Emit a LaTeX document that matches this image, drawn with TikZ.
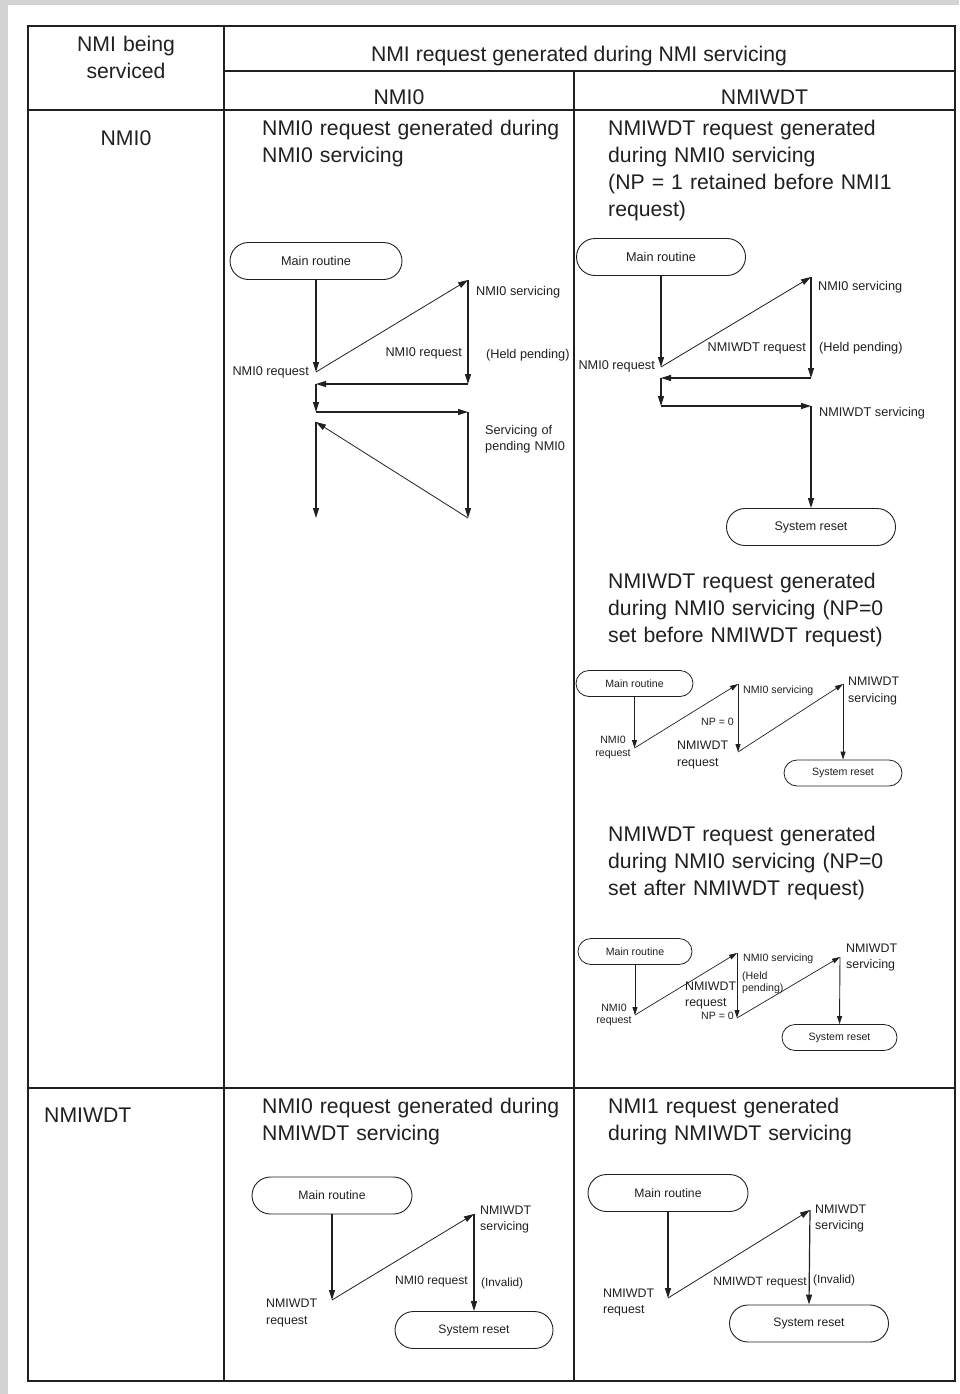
\documentclass[tikz,border=0pt]{standalone}
\usepackage{fontspec}
\setmainfont{Liberation Sans}
\usetikzlibrary{arrows.meta}
\definecolor{ink}{RGB}{35,31,32}
\definecolor{bggray}{RGB}{211,211,211}
\begin{document}
\begin{tikzpicture}[x=1pt,y=-1pt,
  big/.style={font=\fontsize{21.2}{27}\selectfont, inner sep=0pt, text=ink},
  capt/.style={big, text width=340pt, align=left, anchor=base west},
  lab/.style={font=\fontsize{12.7}{16}\selectfont, inner sep=0pt, text=ink},
  labm/.style={font=\fontsize{12.4}{16.5}\selectfont, inner sep=0pt, text=ink},
  labs/.style={font=\fontsize{10.6}{12.5}\selectfont, inner sep=0pt, text=ink},
  termL/.style={draw=ink, line width=0.9pt, rounded corners=18.5pt, minimum height=37pt, inner sep=0pt, font=\fontsize{12.5}{14}\selectfont, text=ink},
  termS/.style={draw=ink, line width=0.8pt, rounded corners=13pt, minimum height=26pt, inner sep=0pt, font=\fontsize{10.6}{12}\selectfont, text=ink},
  flow/.style={draw=ink, line width=1.2pt, -{Triangle[length=10pt,width=6pt]}},
  slant/.style={draw=ink, line width=0.8pt, -{Triangle[length=10pt,width=6pt]}},
  flowS/.style={draw=ink, line width=0.9pt, -{Triangle[length=8pt,width=5pt]}},
  slantS/.style={draw=ink, line width=0.7pt, -{Triangle[length=8pt,width=5pt]}},
  outer/.style={draw=ink, line width=2.2pt},
  inner/.style={draw=ink, line width=1.3pt}
]
\useasboundingbox (0,0) rectangle (959,1394);
\fill[bggray] (0,0) rectangle (959,1394);
\fill[white] (8,5) rectangle (959,1394);

% ---------- table ----------
\draw[inner] (224,26) -- (224,1381);
\draw[inner] (574,71) -- (574,1381);
\draw[inner] (224,71) -- (955,71);
\draw[inner] (28,110) -- (955,110);
\draw[inner] (28,1088) -- (955,1088);
\draw[outer] (28,26) rectangle (955,1381);

% ---------- headings ----------
\node[big, text width=190pt, align=center, anchor=base] (hServ) at (126,51.5) {NMI being\\serviced};
\node[big, anchor=base] (hReq) at (579,61.5) {NMI request generated during NMI servicing};
\node[big, anchor=base] (hN0) at (399,104.5) {NMI0};
\node[big, anchor=base] (hNW) at (764.5,104.5) {NMIWDT};
\node[big, anchor=base] (rN0) at (126,145.5) {NMI0};
\node[big, anchor=base west] (rNW) at (44,1122.5) {NMIWDT};

\node[capt] (cA) at (262,135.5) {NMI0 request generated during\\NMI0 servicing};
\node[capt] (cB) at (608,135.5) {NMIWDT request generated\\during NMI0 servicing\\(NP = 1 retained before NMI1\\request)};
\node[capt] (cC) at (608,588.5) {NMIWDT request generated\\during NMI0 servicing (NP=0\\set before NMIWDT request)};
\node[capt] (cD) at (608,841.5) {NMIWDT request generated\\during NMI0 servicing (NP=0\\set after NMIWDT request)};
\node[capt] (cE) at (262,1113.5) {NMI0 request generated during\\NMIWDT servicing};
\node[capt] (cF) at (608,1113.5) {NMI1 request generated\\during NMIWDT servicing};

% ---------- diagram A ----------
\node[termL, minimum width=172pt, font=\fontsize{12.7}{14}\selectfont] (mA) at (316,261) {Main routine};
\coordinate (a1) at (316,372);
\coordinate (a2) at (468,280);
\coordinate (a3) at (468,384);
\coordinate (a4) at (316,384);
\coordinate (a5) at (316,412);
\coordinate (a6) at (468,412);
\coordinate (a7) at (468,518);
\coordinate (a8) at (316,422);
\coordinate (a9) at (316,518);
\draw[flow] (mA.south) -- (a1);
\draw[slant] (a1) -- (a2);
\draw[flow] (a2) -- (a3);
\draw[flow] (a3) -- (a4);
\draw[flow] (a4) -- (a5);
\draw[flow] (a5) -- (a6);
\draw[flow] (a6) -- (a7);
\draw[slant] (a7) -- (a8);
\draw[flow] (a8) -- (a9);
\node[lab, anchor=base west] (lA1) at (476,295.6) {NMI0 servicing};
\node[lab, anchor=base east] (lA2) at (462,356.6) {NMI0 request};
\node[lab, anchor=base west] (lA3) at (486,358.6) {(Held pending)};
\node[lab, anchor=base east] (lA4) at (309,375) {NMI0 request};
\node[lab, anchor=base west, text width=100pt, align=left] (lA5) at (485,434.6) {Servicing of\\pending NMI0};

% ---------- diagram B ----------
\node[termL, minimum width=169pt, font=\fontsize{12.7}{14}\selectfont] (mB) at (661,257) {Main routine};
\node[termL, minimum width=169pt] (rB) at (811,527) {System reset};
\coordinate (b1) at (661,367);
\coordinate (b2) at (811,277);
\coordinate (b3) at (811,378);
\coordinate (b4) at (661,378);
\coordinate (b5) at (661,406);
\coordinate (b6) at (811,406);
\draw[flow] (mB.south) -- (b1);
\draw[slant] (b1) -- (b2);
\draw[flow] (b2) -- (b3);
\draw[flow] (b3) -- (b4);
\draw[flow] (b4) -- (b5);
\draw[flow] (b5) -- (b6);
\draw[flow] (b6) -- (rB.north);
\node[lab, anchor=base west] (lB1) at (818,290.6) {NMI0 servicing};
\node[lab, anchor=base east] (lB2) at (806,351.6) {NMIWDT request};
\node[lab, anchor=base west] (lB3) at (819,351.6) {(Held pending)};
\node[lab, anchor=base east] (lB4) at (655,369.6) {NMI0 request};
\node[lab, anchor=base west] (lB5) at (819,416.6) {NMIWDT servicing};

% ---------- diagram C ----------
\node[termS, minimum width=117pt] (mC) at (634.5,683.5) {Main routine};
\node[termS, minimum width=118pt] (rC) at (843,773) {System reset};
\coordinate (c1) at (634.5,748);
\coordinate (c2) at (738,684);
\coordinate (c3) at (738,752);
\coordinate (c4) at (843,684);
\draw[flowS] (mC.south) -- (c1);
\draw[slantS] (c1) -- (c2);
\draw[flowS] (c2) -- (c3);
\draw[slantS] (c3) -- (c4);
\draw[flowS] (c4) -- (rC.north);
\node[labs, anchor=base west] (lC1) at (743,693.8) {NMI0 servicing};
\node[labs, anchor=base east] (lC2) at (734,725.8) {NP = 0};
\node[labm, anchor=base west, text width=80pt, align=left] (lC3) at (677,749.5) {NMIWDT\\request};
\node[labs, anchor=base, text width=50pt, align=center] (lC4) at (613,743.8) {NMI0\\request};
\node[labm, anchor=base west, text width=80pt, align=left] (lC5) at (848,685.5) {NMIWDT\\servicing};

% ---------- diagram D ----------
\node[termS, minimum width=114pt] (mD) at (635,951.5) {Main routine};
\node[termS, minimum width=115pt] (rD) at (839.5,1037.5) {System reset};
\coordinate (d1) at (635,1015);
\coordinate (d2) at (737,953);
\coordinate (d3) at (737,1018);
\coordinate (d4) at (840,957);
\draw[flowS] (mD.south) -- (d1);
\draw[slantS] (d1) -- (d2);
\draw[flowS] (d2) -- (d3);
\draw[slantS] (d3) -- (d4);
\draw[flowS] (d4) -- (rD.north);
\node[labs, anchor=base west] (lD1) at (743,961.8) {NMI0 servicing};
\node[labs, anchor=base west, text width=60pt, align=left, font=\fontsize{10.6}{12}\selectfont] (lD2) at (742,979.8) {(Held\\pending)};
\node[labm, anchor=base west, text width=80pt, align=left, font=\fontsize{12.4}{16}\selectfont] (lD3) at (685,990.5) {NMIWDT\\request};
\node[labs, anchor=base east] (lD4) at (734,1019.8) {NP = 0};
\node[labs, anchor=base, text width=50pt, align=center, font=\fontsize{10.6}{12}\selectfont] (lD5) at (614,1011.8) {NMI0\\request};
\node[labm, anchor=base west, text width=80pt, align=left, font=\fontsize{12.4}{16}\selectfont] (lD6) at (846,952.5) {NMIWDT\\servicing};

% ---------- diagram E ----------
\node[termL, minimum width=160pt, font=\fontsize{12.2}{14}\selectfont] (mE) at (332,1195.5) {Main routine};
\node[termL, minimum width=158pt, font=\fontsize{12.2}{14}\selectfont] (rE) at (474,1330) {System reset};
\coordinate (e1) at (332,1300);
\coordinate (e2) at (474,1214);
\draw[flow] (mE.south) -- (e1);
\draw[slant] (e1) -- (e2);
\draw[flow] (e2) -- (rE.north);
\node[labm, anchor=base west, text width=80pt, align=left, font=\fontsize{12.4}{16}\selectfont] (lE1) at (480,1214.5) {NMIWDT\\servicing};
\node[labm, anchor=base east, font=\fontsize{12.1}{14}\selectfont] (lE2) at (468,1284.5) {NMI0 request};
\node[labm, anchor=base west, font=\fontsize{11.8}{14}\selectfont] (lE3) at (481,1286.5) {(Invalid)};
\node[labm, anchor=base west, text width=80pt, align=left, font=\fontsize{12.4}{17}\selectfont] (lE4) at (266,1307.5) {NMIWDT\\request};

% ---------- diagram F ----------
\node[termL, minimum width=160pt, font=\fontsize{12.2}{14}\selectfont] (mF) at (668,1193) {Main routine};
\node[termL, minimum width=159pt, font=\fontsize{12.2}{14}\selectfont] (rF) at (809,1323.5) {System reset};
\coordinate (f1) at (668,1298);
\coordinate (f2) at (810,1210);
\draw[flow] (mF.south) -- (f1);
\draw[slant] (f1) -- (f2);
\draw[flow] (f2) -- (rF.north);
\node[labm, anchor=base west, text width=80pt, align=left, font=\fontsize{12.4}{16}\selectfont] (lF1) at (815,1213.5) {NMIWDT\\servicing};
\node[labm, anchor=base east, font=\fontsize{12.1}{14}\selectfont] (lF2) at (807,1285.5) {NMIWDT request};
\node[labm, anchor=base west, font=\fontsize{11.8}{14}\selectfont] (lF3) at (813,1283.5) {(Invalid)};
\node[labm, anchor=base west, text width=80pt, align=left, font=\fontsize{12.4}{16}\selectfont] (lF4) at (603,1297.5) {NMIWDT\\request};
\end{tikzpicture}
\end{document}
